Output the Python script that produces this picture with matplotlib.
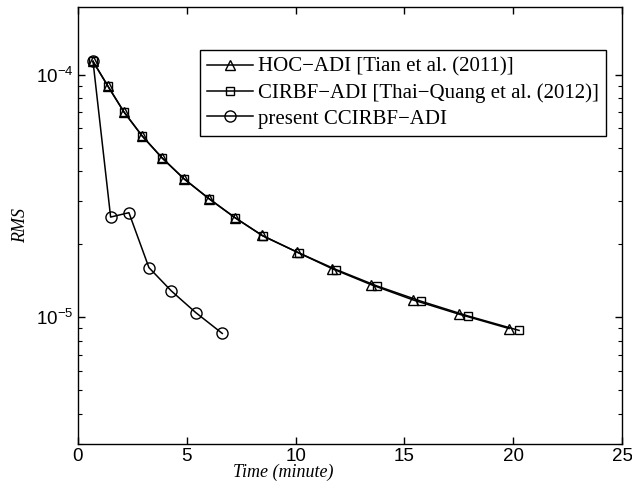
import matplotlib
matplotlib.use("Agg")
import matplotlib.pyplot as plt
from matplotlib.ticker import LogLocator, NullFormatter

plt.rcParams['font.family'] = ['Liberation Sans', 'DejaVu Sans']
plt.rcParams['mathtext.default'] = 'regular'

# data (time in minutes, RMS error)
hoc_t = [0.69, 1.38, 2.11, 2.94, 3.86, 4.87, 6.02, 7.22, 8.46, 10.06,
         11.67, 13.46, 15.40, 17.51, 19.81]
hoc_rms = [1.134e-4, 8.95e-5, 7.02e-5, 5.60e-5, 4.54e-5, 3.72e-5, 3.08e-5,
           2.57e-5, 2.175e-5, 1.856e-5, 1.586e-5, 1.363e-5, 1.178e-5,
           1.029e-5, 8.98e-6]

cirbf_t = [0.69, 1.38, 2.11, 2.94, 3.86, 4.87, 6.02, 7.22, 8.50, 10.16,
           11.86, 13.74, 15.76, 17.92, 20.27]
cirbf_rms = [1.134e-4, 8.95e-5, 7.02e-5, 5.60e-5, 4.54e-5, 3.72e-5, 3.08e-5,
             2.57e-5, 2.161e-5, 1.839e-5, 1.572e-5, 1.345e-5, 1.164e-5,
             1.012e-5, 8.82e-6]

cc_t = [0.69, 1.50, 2.34, 3.26, 4.29, 5.41, 6.63]
cc_rms = [1.134e-4, 2.587e-5, 2.697e-5, 1.601e-5, 1.283e-5, 1.045e-5, 8.57e-6]

labels = ['HOC\u2212ADI [Tian et al. (2011)]',
          'CIRBF\u2212ADI [Thai\u2212Quang et al. (2012)]',
          'present CCIRBF\u2212ADI']

fig = plt.figure(figsize=(6.32, 4.84), dpi=100)
ax = fig.add_axes([0.1234, 0.0826, 0.8608, 0.9029])

ax.semilogy(hoc_t, hoc_rms, 'k-^', lw=1.1, ms=7.5, mfc='none', mew=1.0, label=labels[0])
ax.semilogy(cirbf_t, cirbf_rms, 'k-s', lw=1.1, ms=6, mfc='none', mew=1.0, label=labels[1])
ax.semilogy(cc_t, cc_rms, 'k-o', lw=1.1, ms=8, mfc='none', mew=1.0, label=labels[2])

ax.set_xlim(0, 25)
ax.set_ylim(3e-6, 1.9e-4)
ax.set_xticks([0, 5, 10, 15, 20, 25])
ax.yaxis.set_major_locator(LogLocator(base=10))
ax.yaxis.set_minor_locator(LogLocator(base=10, subs=range(2, 10)))
ax.yaxis.set_minor_formatter(NullFormatter())

ax.tick_params(which='both', direction='in', top=True, right=True, labelsize=13.5)
ax.tick_params(axis='x', pad=3)
ax.tick_params(axis='y', pad=3)
ax.tick_params(which='major', length=5, width=1.0)
ax.tick_params(which='minor', length=3, width=0.8)
for s in ax.spines.values():
    s.set_linewidth(1.0)

ax.set_xlabel('Time (minute)', family=['Liberation Serif'], style='italic', fontsize=13)
ax.xaxis.set_label_coords(0.377, -0.046)
ax.set_ylabel('RMS', family=['Liberation Serif'], style='italic', fontsize=13)
ax.yaxis.set_label_coords(-0.09, 0.5)

leg = ax.legend(loc='upper right', bbox_to_anchor=(0.9706, 0.9016),
                prop={'family': 'Liberation Serif', 'size': 15},
                fancybox=False, edgecolor='k', framealpha=1, handlelength=2.2,
                labelspacing=0.3, borderpad=0.35, handletextpad=0.25, borderaxespad=0)
leg.get_frame().set_linewidth(1.0)

fig.savefig('out.png', dpi=100)
